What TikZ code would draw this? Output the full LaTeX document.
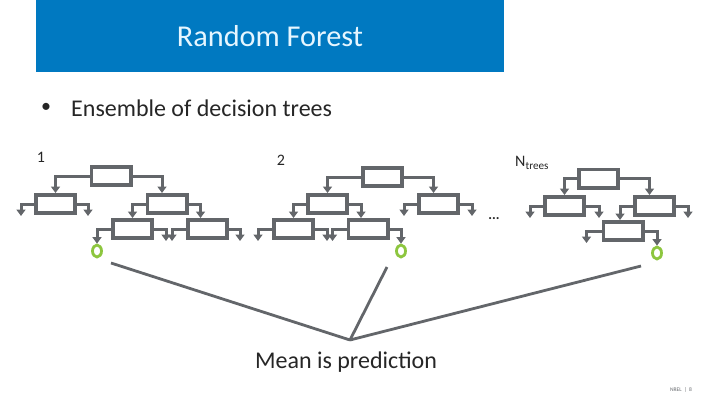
\documentclass[tikz,border=0pt]{standalone}
\usepackage{fontspec}
\setmainfont{Carlito}
\usetikzlibrary{arrows.meta,shapes.geometric}
\definecolor{nrelblue}{HTML}{0079C1}
\definecolor{boxgray}{HTML}{63666A}
\definecolor{leafgreen}{HTML}{8DC63F}
\definecolor{txtgray}{HTML}{262626}
\tikzset{box/.style={draw=boxgray, line width=3.6pt, minimum width=39.4pt, minimum height=18.4pt, inner sep=0pt},
arr/.style={draw=boxgray, line width=3pt, -{Triangle[width=9pt,length=6.5pt]}},
leaf/.style={ellipse, draw=leafgreen, line width=2.8pt, minimum width=9pt, minimum height=12pt, inner sep=0pt},
lbl/.style={text=txtgray, inner sep=0pt}}

\begin{document}
\begin{tikzpicture}[x=1pt,y=-1pt]
\useasboundingbox (0,0) rectangle (720,405);
\fill[nrelblue] (36,0) rectangle (504,72);
\node[text={rgb,255:red,230;green,246;blue,255}, font=\fontsize{30.3}{33}\selectfont] (title) at (270,36) {Random Forest};
\node[lbl, font=\fontsize{20}{24}\selectfont] (bul) at (46,108) {\textbullet};
\node[lbl, anchor=west, font=\fontsize{24}{28}\selectfont] (ens) at (71,108) {Ensemble of decision trees};
\node[lbl, font=\fontsize{16}{18}\selectfont] (n1) at (41,157) {1};
\node[lbl, font=\fontsize{16}{18}\selectfont] (n2) at (281,160) {2};
\node[lbl, anchor=west, font=\fontsize{16}{18}\selectfont] (n3) at (515,163) {N\textsubscript{trees}};
\node[lbl, font=\bfseries\fontsize{14}{16}\selectfont] (dots) at (494,219) {...};
% tree 1
\node[box] (t1r) at (111,176) {};
\node[box] (t1a) at (55.5,204) {};
\node[box] (t1b) at (167,204) {};
\node[box] (t1c) at (132.5,229) {};
\node[box] (t1d) at (207.5,229) {};
\node[leaf] (o1) at (97,251) {};
% tree 2
\node[box] (t2r) at (382.5,177) {};
\node[box] (t2a) at (327.5,204) {};
\node[box] (t2b) at (438.5,204) {};
\node[box] (t2c) at (293.5,229) {};
\node[box] (t2d) at (368,229) {};
\node[leaf] (o2) at (401,251) {};
% tree N
\node[box] (t3r) at (598.5,178.5) {};
\node[box] (t3a) at (564.5,206) {};
\node[box] (t3b) at (654.5,206) {};
\node[box] (t3c) at (623,231) {};
\node[leaf] (o3) at (657,253) {};
% splits
\draw[arr] (t1r.west) -| (t1a.north);
\draw[arr] (t1r.east) -| ([xshift=-5pt]t1b.north);
\draw[arr] (t1b.west) -| (t1c.north);
\draw[arr] (t1b.east) -| ([xshift=-7pt]t1d.north);
\draw[arr] (t1c.west) -| (o1.north);
\draw[arr] (t2r.west) -| (t2a.north);
\draw[arr] (t2r.east) -| ([xshift=-5pt]t2b.north);
\draw[arr] (t2a.west) -| (t2c.north);
\draw[arr] (t2a.east) -| ([xshift=-7pt]t2d.north);
\draw[arr] (t2d.east) -| (o2.north);
\draw[arr] (t3r.west) -| (t3a.north);
\draw[arr] (t3r.east) -| ([xshift=-5pt]t3b.north);
\draw[arr] (t3b.west) -| ([xshift=-3pt]t3c.north);
\draw[arr] (t3c.east) -| (o3.north);
% open ends
\foreach \n/\a/\d in {t1a/west/-13,t1a/east/11,t1c/east/12,t1d/west/-14,t1d/east/11,
t2b/west/-13,t2b/east/12,t2c/west/-14,t2c/east/12,t2d/west/-14,
t3a/west/-13,t3a/east/13,t3b/east/12,t3c/west/-15}{
\draw[arr] (\n.\a) -- ++(\d,0) -- ++(0,12);
}
% averaging
\coordinate (m) at (350,340);
\coordinate (s1) at (111,263);
\coordinate (s2) at (387,267);
\coordinate (s3) at (641,266);
\foreach \s in {s1,s2,s3}{\draw[boxgray, line width=2.8pt] (\s) -- (m);}
\node[lbl, font=\fontsize{24}{28}\selectfont] (mean) at (346,362) {Mean is prediction};
\node[text=boxgray, inner sep=0pt, font=\fontsize{5.5}{6}\selectfont] (foot) at (681,390) {NREL \ | \ 8};
\end{tikzpicture}
\end{document}
